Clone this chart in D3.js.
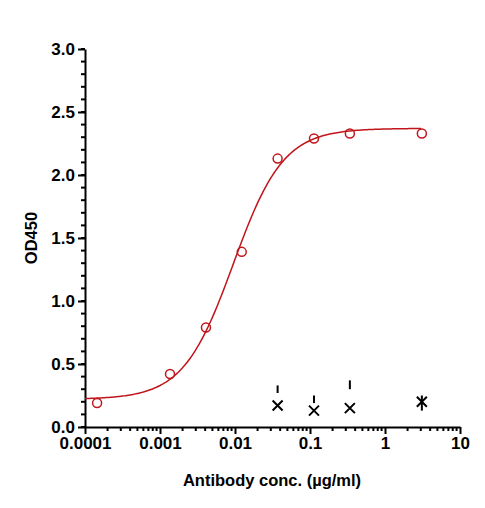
<!DOCTYPE html>
<html><head><meta charset="utf-8">
<script src="https://cdn.jsdelivr.net/npm/d3@7"></script>
<style>body{margin:0;background:#fff}text{font-family:"Liberation Sans",Arial,sans-serif;font-weight:bold}</style>
</head><body><svg></svg>
<script>
var conc = [0.000145, 0.00136, 0.0041, 0.0123, 0.037, 0.113, 0.34, 3.1];
var od = [0.19, 0.42, 0.79, 1.39, 2.13, 2.29, 2.33, 2.33];
var ctrlConc = [0.037, 0.113, 0.34, 3.1];
var ctrlOd = [0.17, 0.13, 0.15, 0.20];
var ctrlBarLo = [0.27, 0.19, 0.30, 0.13];
var ctrlBarHi = [0.33, 0.25, 0.37, 0.25];
var xTicks = [0.0001, 0.001, 0.01, 0.1, 1, 10];
var xTickLabels = ["0.0001", "0.001", "0.01", "0.1", "1", "10"];
var yTicks = [0, 0.5, 1.0, 1.5, 2.0, 2.5, 3.0];
// fitted 4PL parameters
var fitBottom = 0.22, fitTop = 2.37, fitEC50 = 0.0095, fitHill = 1.3;

var width = 485, height = 508;
var svg = d3.select("svg").attr("width", width).attr("height", height);
var x = d3.scaleLog().domain([0.0001, 10]).range([85, 460]);
var y = d3.scaleLinear().domain([0, 3]).range([427, 49]);

var xAxis = svg.append("g").attr("transform", "translate(0,427)")
  .call(d3.axisBottom(x).tickValues(xTicks).tickFormat((d, i) => xTickLabels[i]).tickSize(7).tickSizeOuter(0));
var minor = [];
for (var e = -4; e < 1; e++) for (var m = 2; m < 10; m++) minor.push(m * Math.pow(10, e));
svg.append("g").selectAll("line").data(minor).enter().append("line")
  .attr("x1", d => x(d)).attr("x2", d => x(d)).attr("y1", 427).attr("y2", 431)
  .attr("stroke", "#000").attr("stroke-width", 2);

var yAxis = svg.append("g").attr("transform", "translate(85,0)")
  .call(d3.axisLeft(y).tickValues(yTicks).tickFormat(d3.format(".1f")).tickSize(7).tickSizeOuter(0));
svg.append("g").selectAll("line").data(d3.range(0, 3.01, 0.1)).enter().append("line")
  .attr("x1", 81).attr("x2", 85).attr("y1", d => y(d)).attr("y2", d => y(d))
  .attr("stroke", "#000").attr("stroke-width", 2);
[xAxis, yAxis].forEach(function (a) {
  a.selectAll("path,line").attr("stroke", "#000").attr("stroke-width", 2);
  a.selectAll("text").attr("font-size", 17).attr("fill", "#000");
});

svg.append("text").attr("x", 272).attr("y", 486).attr("text-anchor", "middle")
  .attr("font-size", 16.5).text("Antibody conc. (µg/ml)");
svg.append("text").attr("transform", "translate(37,238) rotate(-90)").attr("text-anchor", "middle")
  .attr("font-size", 16.5).text("OD450");

var fitX = d3.range(-4, Math.log10(3.1) + 0.001, 0.02).map(v => Math.pow(10, v));
svg.append("path").datum(fitX)
  .attr("d", d3.line().x(d => x(d)).y(d => y(fitBottom + (fitTop - fitBottom) / (1 + Math.pow(fitEC50 / d, fitHill)))))
  .attr("fill", "none").attr("stroke", "#c0151b").attr("stroke-width", 1.5);

svg.append("g").selectAll("circle").data(conc).enter().append("circle")
  .attr("cx", d => x(d)).attr("cy", (d, i) => y(od[i])).attr("r", 4.5)
  .attr("fill", "none").attr("stroke", "#c0151b").attr("stroke-width", 1.5);

var ctrl = svg.append("g").attr("stroke", "#000").attr("stroke-width", 2);
ctrlConc.forEach(function (c, i) {
  var cx = x(c), cy = y(ctrlOd[i]);
  ctrl.append("path").attr("d", `M${cx-5},${cy-5}L${cx+5},${cy+5}M${cx-5},${cy+5}L${cx+5},${cy-5}`);
  ctrl.append("line").attr("x1", cx).attr("x2", cx).attr("y1", y(ctrlBarLo[i])).attr("y2", y(ctrlBarHi[i]));
});
</script></body></html>
